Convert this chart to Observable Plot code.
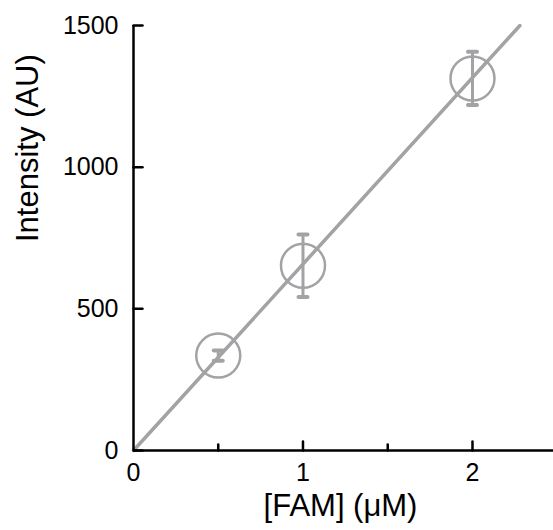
<!DOCTYPE html>
<html>
<head>
<meta charset="utf-8">
<script src="https://cdn.jsdelivr.net/npm/d3@7"></script>
<script src="https://cdn.jsdelivr.net/npm/@observablehq/plot@0.6"></script>
<style>
  body { margin: 0; background: #fff; }
  svg { font-family: "Liberation Sans", Arial, sans-serif; }
</style>
</head>
<body>
<div id="chart"></div>
<script>
// Data
const conc = [0.5, 1, 2];            // [FAM] (µM)
const intensity = [335, 652, 1313];  // Intensity (AU)
const errorSD = [18, 110, 94];
const fitX = [0, 2.28];
const fitY = [0, 1500];
const xMajorTicks = [0, 1, 2];
const xMinorTicks = [0.5, 1.5];
const yTicks = [0, 500, 1000, 1500];

const points = conc.map((x, i) => ({x, y: intensity[i], lo: intensity[i] - errorSD[i], hi: intensity[i] + errorSD[i]}));
const fit = fitX.map((x, i) => ({x, y: fitY[i]}));
const caps = points.flatMap(d => [{x: d.x, y: d.lo}, {x: d.x, y: d.hi}]);

const gray = "#a3a3a6";
const lineShape = {draw(ctx, l) { ctx.moveTo(0, 0); ctx.lineTo(0, -l); }};

const chart = Plot.plot({
  width: 553,
  height: 530,
  marginLeft: 133,
  marginRight: 0,
  marginTop: 25,
  marginBottom: 80,
  x: {domain: [0, 2.478], ticks: xMajorTicks},
  y: {domain: [0, 1500], ticks: yTicks},
  style: {fontFamily: "Liberation Sans, Arial, sans-serif", background: "white"},
  marks: [
    Plot.axisX(xMajorTicks, {tickSize: 0, tickPadding: 13, fontSize: 25, tickFormat: "d", label: null, fill: "black"}),
    Plot.axisY(yTicks, {tickSize: 0, tickPadding: 15, fontSize: 25, tickFormat: "d", label: null, fill: "black"}),
    Plot.text(["[FAM] (μM)"], {frameAnchor: "bottom", dy: 56, dx: -3, lineAnchor: "middle", fontSize: 31, fill: "black"}),
    Plot.text(["Intensity (AU)"], {frameAnchor: "left", dx: -105, dy: 4, lineAnchor: "middle", rotate: -90, fontSize: 31, fill: "black"}),
    // fit line
    Plot.line(fit, {x: "x", y: "y", stroke: gray, strokeWidth: 3.5}),
    // error bars
    Plot.ruleX(points, {x: "x", y1: "lo", y2: "hi", stroke: gray, strokeWidth: 3}),
    Plot.vector(caps, {x: "x", y: "y", rotate: 90, length: 9, anchor: "middle", shape: lineShape, stroke: gray, strokeWidth: 4}),
    // markers
    Plot.dot(points, {x: "x", y: "y", r: 22, stroke: gray, strokeWidth: 2.5, fill: "none"}),
    // axis lines
    Plot.ruleY([0], {stroke: "black", strokeWidth: 2.5}),
    Plot.ruleX([0], {stroke: "black", strokeWidth: 2.5}),
    // inward ticks
    Plot.vector(xMajorTicks.filter(d => d > 0), {x: d => d, y: 0, length: 9, anchor: "start", shape: lineShape, stroke: "black", strokeWidth: 2.5}),
    Plot.vector(xMinorTicks, {x: d => d, y: 0, length: 6, anchor: "start", shape: lineShape, stroke: "black", strokeWidth: 2.5}),
    Plot.vector(yTicks, {x: 0, y: d => d, rotate: 90, length: 9, anchor: "start", shape: lineShape, stroke: "black", strokeWidth: 2.5})
  ]
});
document.getElementById("chart").append(chart);
</script>
</body>
</html>
